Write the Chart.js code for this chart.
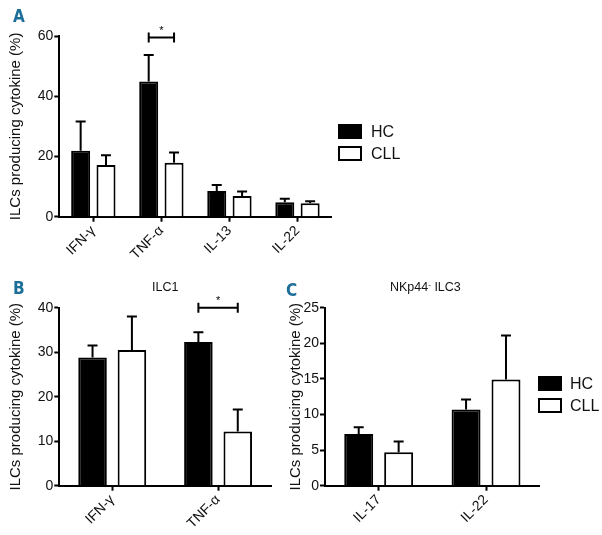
<!DOCTYPE html>
<html>
<head>
<meta charset="utf-8">
<script src="https://cdn.jsdelivr.net/npm/chart.js@4.4.1/dist/chart.umd.min.js"></script>
<style>
  html, body { margin:0; padding:0; background:#fff; }
  body { width:602px; height:535px; position:relative; overflow:hidden; font-family:"Liberation Sans", Arial, sans-serif; }
  .cv { position:absolute; }
  .panel { position:absolute; font-family:"Liberation Sans Narrow","DejaVu Sans Condensed","Liberation Sans",sans-serif; font-weight:bold; font-size:17px; color:#1b6f98; line-height:1; }
  .ttl { position:absolute; font-size:12.5px; color:#111; line-height:1; white-space:nowrap; }
  .lg { position:absolute; font-size:16px; color:#111; line-height:1; }
  .sw { position:absolute; box-sizing:border-box; border:2px solid #000; }
</style>
</head>
<body>
<canvas id="cA" class="cv" width="340" height="270" style="left:0;top:0;width:340px;height:270px"></canvas>
<canvas id="cB" class="cv" width="290" height="265" style="left:0;top:270px;width:290px;height:265px"></canvas>
<canvas id="cC" class="cv" width="320" height="265" style="left:282px;top:270px;width:320px;height:265px"></canvas>

<div class="panel" style="left:13px;top:8px">A</div>
<div class="panel" style="left:13px;top:280px">B</div>
<div class="panel" style="left:286px;top:282px">C</div>
<div class="ttl" style="left:152px;top:281px">ILC1</div>
<div class="ttl" style="left:390px;top:281px">NKp44<sup style="font-size:8px;vertical-align:4px">-</sup> ILC3</div>

<div class="sw" style="left:338px;top:124px;width:24px;height:15px;background:#000"></div>
<div class="lg" style="left:371px;top:124px">HC</div>
<div class="sw" style="left:338px;top:146px;width:24px;height:15px;background:#fff"></div>
<div class="lg" style="left:371px;top:146px">CLL</div>

<div class="sw" style="left:538px;top:376px;width:24px;height:15px;background:#000"></div>
<div class="lg" style="left:570px;top:376px">HC</div>
<div class="sw" style="left:538px;top:398px;width:24px;height:15px;background:#fff"></div>
<div class="lg" style="left:570px;top:398px">CLL</div>

<script>
// ---------- DATA ----------
const seriesNames = ["HC", "CLL"];

const catsA = ["IFN-\u03B3", "TNF-\u03B1", "IL-13", "IL-22"];
const hcA = [21.9, 44.9, 8.5, 4.8];
const hcErrTopA = [31.6, 53.7, 10.5, 6.0];
const cllA = [17.2, 17.9, 6.9, 4.5];
const cllErrTopA = [20.4, 21.3, 8.4, 5.1];
const sigIndexA = 1, sigLevelA = 59.5;

const catsB = ["IFN-\u03B3", "TNF-\u03B1"];
const hcB = [28.8, 32.3];
const hcErrTopB = [31.5, 34.5];
const cllB = [30.5, 12.2];
const cllErrTopB = [38.0, 17.1];
const sigIndexB = 1, sigLevelB = 40;

const catsC = ["IL-17", "IL-22"];
const hcC = [7.25, 10.7];
const hcErrTopC = [8.2, 12.1];
const cllC = [4.7, 14.9];
const cllErrTopC = [6.2, 21.1];

const yTicksA = {max:60, step:20};
const yTicksB = {max:40, step:10};
const yTicksC = {max:25, step:5};

// ---------- PLUGINS ----------
const errorBars = {
  id: 'errorBars',
  afterDatasetsDraw(chart) {
    const ctx = chart.ctx, ys = chart.scales.y;
    chart.data.datasets.forEach((ds, di) => {
      const meta = chart.getDatasetMeta(di);
      meta.data.forEach((bar, i) => {
        const top = ys.getPixelForValue(ds.errTop[i]);
        ctx.save();
        ctx.strokeStyle = '#000';
        ctx.lineWidth = 2;
        ctx.beginPath();
        ctx.moveTo(bar.x, bar.y);
        ctx.lineTo(bar.x, top);
        ctx.moveTo(bar.x - 5, top);
        ctx.lineTo(bar.x + 5, top);
        ctx.stroke();
        ctx.restore();
      });
    });
  }
};
const sigBracket = {
  id: 'sigBracket',
  afterDatasetsDraw(chart, args, opts) {
    if (opts.index == null) return;
    const ctx = chart.ctx, ys = chart.scales.y;
    const x1 = chart.getDatasetMeta(0).data[opts.index].x;
    const x2 = chart.getDatasetMeta(1).data[opts.index].x;
    const y = ys.getPixelForValue(opts.level);
    ctx.save();
    ctx.strokeStyle = '#000';
    ctx.lineWidth = 2;
    ctx.beginPath();
    ctx.moveTo(x1, y); ctx.lineTo(x2, y);
    ctx.moveTo(x1, y - 5); ctx.lineTo(x1, y + 5);
    ctx.moveTo(x2, y - 5); ctx.lineTo(x2, y + 5);
    ctx.stroke();
    ctx.fillStyle = '#000';
    ctx.font = '11px "Liberation Sans", Arial, sans-serif';
    ctx.textAlign = 'center';
    ctx.textBaseline = 'alphabetic';
    ctx.fillText('*', (x1 + x2) / 2, y - 4);
    ctx.restore();
  }
};

function makeChart(id, cats, hc, hcErr, cll, cllErr, yt, geo, sig) {
  const font = {family:'"Liberation Sans", Arial, sans-serif', size:14};
  return new Chart(document.getElementById(id), {
    type: 'bar',
    data: {
      labels: cats,
      datasets: [
        {label: seriesNames[0], data: hc, errTop: hcErr, backgroundColor:'#000', borderColor:'#000', borderWidth:2, borderSkipped:'start',
         categoryPercentage: geo.cat, barPercentage: geo.bar},
        {label: seriesNames[1], data: cll, errTop: cllErr, backgroundColor:'#fff', borderColor:'#000', borderWidth:2, borderSkipped:'start',
         categoryPercentage: geo.cat, barPercentage: geo.bar}
      ]
    },
    options: {
      responsive: false,
      animation: false,
      events: [],
      layout: {padding: {left:0, top: geo.top, right: geo.right, bottom: 0}},
      plugins: {legend:{display:false}, tooltip:{enabled:false}, sigBracket: sig || {}},
      scales: {
        x: {
          offset: true,
          grid: {display:true, drawOnChartArea:false, drawTicks:true, offset:false, tickLength:5, tickColor:'#000', tickWidth:2, color:'#000'},
          border: {color:'#000', width:2},
          ticks: {color:'#111', font: font, minRotation:45, maxRotation:45, autoSkip:false, padding:1},
          afterFit(s) { s.height = geo.xh; }
        },
        y: {
          min: 0, max: yt.max,
          grid: {display:true, drawOnChartArea:false, drawTicks:true, tickLength:5, tickColor:'#000', tickWidth:2, color:'#000'},
          border: {color:'#000', width:2},
          ticks: {color:'#111', font: font, stepSize: yt.step, padding:1},
          title: {display:true, text:'ILCs producing cytokine (%)', color:'#111', font:{family:'"Liberation Sans", Arial, sans-serif', size:15}, padding:{top: geo.tpad, bottom:0}},
          afterFit(s) { s.width = geo.yw; }
        }
      }
    },
    plugins: [errorBars, sigBracket]
  });
}

makeChart('cA', catsA, hcA, hcErrTopA, cllA, cllErrTopA, yTicksA,
  {cat:0.745, bar:0.75, top:36, right:340-331.5, xh:270-216.7, yw:59.3, tpad:7},
  {index: sigIndexA, level: sigLevelA});
makeChart('cB', catsB, hcB, hcErrTopB, cllB, cllErrTopB, yTicksB,
  {cat:0.744, bar:0.725, top:37.7, right:290-271, xh:265-215.7, yw:59.3, tpad:7},
  {index: sigIndexB, level: sigLevelB});
makeChart('cC', catsC, hcC, hcErrTopC, cllC, cllErrTopC, yTicksC,
  {cat:0.744, bar:0.725, top:37.7, right:320-257.7, xh:265-215.7, yw:43, tpad:5},
  null);
</script>
</body>
</html>
